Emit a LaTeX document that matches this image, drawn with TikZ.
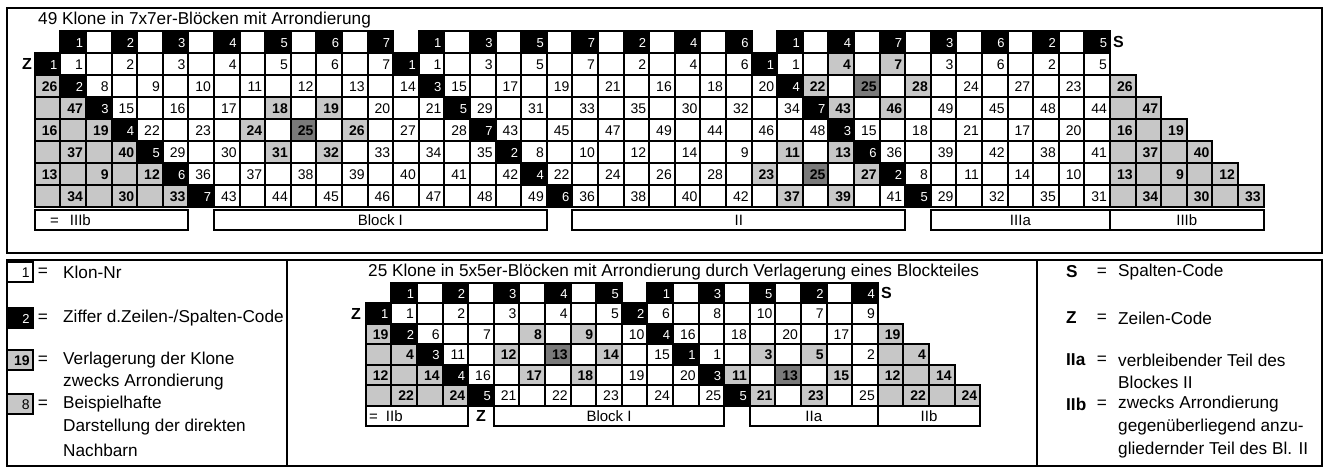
\documentclass[tikz,border=0pt]{standalone}
\usepackage{fontspec}
\setmainfont{Liberation Sans}
\newcommand{\rkNum}{\fontsize{14}{15}\selectfont}
\newcommand{\rkNumB}{\fontsize{14}{15}\selectfont\bfseries}
\newcommand{\rkCode}{\fontsize{13}{14}\selectfont}
\newcommand{\rkLg}{\fontsize{17.2}{20}\selectfont}
\newcommand{\rkLgB}{\fontsize{17.2}{20}\selectfont\bfseries}
\newcommand{\rkLab}{\fontsize{15}{16}\selectfont}
\newcommand{\rkZ}{\fontsize{16}{16}\selectfont\bfseries}
\newcommand{\rkH}{22pt}
\newcommand{\rkrow}[5]{%
  \foreach \ty/\tx [count=\i from 0] in {#5} {%
    \pgfmathsetmacro{\xc}{#4+25.6*(#3+\i)+12.8}%
    \node[cell\ty] (#1-\i) at (\xc,#2) {\tx};%
  }%
}
\tikzset{
  cellbase/.style={draw=black, line width=1.9pt, minimum width=25.6pt, minimum height=\rkH,
    inner xsep=3pt, inner ysep=0pt, text width=19.6pt, align=right, text height=10pt, text depth=0pt},
  cellN/.style={cellbase, fill=white, font=\rkNum},
  cellE/.style={cellbase, fill=white},
  cellK/.style={cellbase, fill=black, text=white, font=\rkCode},
  cellS/.style={cellbase, fill=black!22, font=\rkNumB},
  cellZ/.style={cellbase, fill=black!22},
  cellD/.style={cellbase, fill=black!52, font=\rkNumB},
  cellX/.style={inner sep=0pt, minimum size=0pt},
  lblbox/.style={draw=black, line width=1.9pt, fill=white, minimum height=20pt, inner sep=0pt, font=\rkLab},
  lgtext/.style={font=\rkLg, anchor=west, inner sep=0pt},
  lgkey/.style={font=\rkLgB, anchor=west, inner sep=0pt},
  lgeq/.style={font=\rkLg, inner sep=0pt},
  framel/.style={draw=black, line width=2pt},
}
\begin{document}
\begin{tikzpicture}[x=1pt,y=-1pt]
\useasboundingbox (0,0) rectangle (1325,469);
% frames
\draw[framel] (7,8) rectangle (1322,253);
\draw[framel] (7,260) rectangle (1322,466);
\draw[framel] (287,260) -- (287,466);
\draw[framel] (1037,260) -- (1037,466);

% ---------- top grid ----------
\node[lgtext] (ttitle) at (38,20) {49 Klone in 7x7er-Blöcken mit Arrondierung};
\rkrow{th}{42}{0}{60.4}{K/1,E/{},K/2,E/{},K/3,E/{},K/4,E/{},K/5,E/{},K/6,E/{},K/7,X/{},K/1,E/{},K/3,E/{},K/5,E/{},K/7,E/{},K/2,E/{},K/4,E/{},K/6,X/{},K/1,E/{},K/4,E/{},K/7,E/{},K/3,E/{},K/6,E/{},K/2,E/{},K/5}
\rkrow{t1}{64}{-1}{60.4}{K/1,N/1,E/{},N/2,E/{},N/3,E/{},N/4,E/{},N/5,E/{},N/6,E/{},N/7,K/1,N/1,E/{},N/3,E/{},N/5,E/{},N/7,E/{},N/2,E/{},N/4,E/{},N/6,K/1,N/1,E/{},S/4,E/{},S/7,E/{},N/3,E/{},N/6,E/{},N/2,E/{},N/5}
\rkrow{t2}{86}{-1}{60.4}{S/26,K/2,N/8,E/{},N/9,E/{},N/10,E/{},N/11,E/{},N/12,E/{},N/13,E/{},N/14,K/3,N/15,E/{},N/17,E/{},N/19,E/{},N/21,E/{},N/16,E/{},N/18,E/{},N/20,K/4,S/22,E/{},D/25,E/{},S/28,E/{},N/24,E/{},N/27,E/{},N/23,E/{},S/26}
\rkrow{t3}{108}{-1}{60.4}{Z/{},S/47,K/3,N/15,E/{},N/16,E/{},N/17,E/{},S/18,E/{},S/19,E/{},N/20,E/{},N/21,K/5,N/29,E/{},N/31,E/{},N/33,E/{},N/35,E/{},N/30,E/{},N/32,E/{},N/34,K/7,S/43,E/{},S/46,E/{},N/49,E/{},N/45,E/{},N/48,E/{},N/44,Z/{},S/47}
\rkrow{t4}{130}{-1}{60.4}{S/16,Z/{},S/19,K/4,N/22,E/{},N/23,E/{},S/24,E/{},D/25,E/{},S/26,E/{},N/27,E/{},N/28,K/7,N/43,E/{},N/45,E/{},N/47,E/{},N/49,E/{},N/44,E/{},N/46,E/{},N/48,K/3,N/15,E/{},N/18,E/{},N/21,E/{},N/17,E/{},N/20,E/{},S/16,Z/{},S/19}
\rkrow{t5}{152}{-1}{60.4}{Z/{},S/37,Z/{},S/40,K/5,N/29,E/{},N/30,E/{},S/31,E/{},S/32,E/{},N/33,E/{},N/34,E/{},N/35,K/2,N/8,E/{},N/10,E/{},N/12,E/{},N/14,E/{},N/9,E/{},S/11,E/{},S/13,K/6,N/36,E/{},N/39,E/{},N/42,E/{},N/38,E/{},N/41,Z/{},S/37,Z/{},S/40}
\rkrow{t6}{174}{-1}{60.4}{S/13,Z/{},S/9,Z/{},S/12,K/6,N/36,E/{},N/37,E/{},N/38,E/{},N/39,E/{},N/40,E/{},N/41,E/{},N/42,K/4,N/22,E/{},N/24,E/{},N/26,E/{},N/28,E/{},S/23,E/{},D/25,E/{},S/27,K/2,N/8,E/{},N/11,E/{},N/14,E/{},N/10,E/{},S/13,Z/{},S/9,Z/{},S/12}
\rkrow{t7}{196}{-1}{60.4}{Z/{},S/34,Z/{},S/30,Z/{},S/33,K/7,N/43,E/{},N/44,E/{},N/45,E/{},N/46,E/{},N/47,E/{},N/48,E/{},N/49,K/6,N/36,E/{},N/38,E/{},N/40,E/{},N/42,E/{},S/37,E/{},S/39,E/{},N/41,K/5,N/29,E/{},N/32,E/{},N/35,E/{},N/31,Z/{},S/34,Z/{},S/30,Z/{},S/33}
\node[font=\rkZ] (tz) at (27,64) {Z};
\node[font=\rkZ, anchor=west, inner sep=0pt] (ts) at (1113,42) {S};
% top label row
\node[lblbox, minimum width=153.6pt] (tl1) at (111.6,220) {};
\node[font=\rkLab, anchor=west, inner sep=0pt] (tl1t) at (50,220) {=\hspace{11pt}IIIb};
\node[lblbox, minimum width=332.8pt] (tl2) at (380.4,220) {Block I};
\node[lblbox, minimum width=332.8pt] (tl3) at (738.8,220) {II};
\node[lblbox, minimum width=179.2pt] (tl4) at (1020.4,220) {IIIa};
\node[lblbox, minimum width=153.6pt] (tl5) at (1186.8,220) {IIIb};

% ---------- bottom grid ----------
\renewcommand{\rkH}{20.5pt}
\node[lgtext] (btitle) at (368,272) {25 Klone in 5x5er-Blöcken mit Arrondierung durch Verlagerung eines Blockteiles};
\rkrow{bh}{293}{0}{391.4}{K/1,E/{},K/2,E/{},K/3,E/{},K/4,E/{},K/5,X/{},K/1,E/{},K/3,E/{},K/5,E/{},K/2,E/{},K/4}
\rkrow{b1}{313.5}{-1}{391.4}{K/1,N/1,E/{},N/2,E/{},N/3,E/{},N/4,E/{},N/5,K/2,N/6,E/{},N/8,E/{},N/10,E/{},N/7,E/{},N/9}
\rkrow{b2}{334}{-1}{391.4}{S/19,K/2,N/6,E/{},N/7,E/{},S/8,E/{},S/9,E/{},N/10,K/4,N/16,E/{},N/18,E/{},N/20,E/{},N/17,E/{},S/19}
\rkrow{b3}{354.5}{-1}{391.4}{Z/{},S/4,K/3,N/11,E/{},S/12,E/{},D/13,E/{},S/14,E/{},N/15,K/1,N/1,E/{},S/3,E/{},S/5,E/{},N/2,Z/{},S/4}
\rkrow{b4}{375}{-1}{391.4}{S/12,Z/{},S/14,K/4,N/16,E/{},S/17,E/{},S/18,E/{},N/19,E/{},N/20,K/3,S/11,E/{},D/13,E/{},S/15,E/{},S/12,Z/{},S/14}
\rkrow{b5}{395.5}{-1}{391.4}{Z/{},S/22,Z/{},S/24,K/5,N/21,E/{},N/22,E/{},N/23,E/{},N/24,E/{},N/25,K/5,S/21,E/{},S/23,E/{},N/25,Z/{},S/22,Z/{},S/24}
\node[font=\rkZ] (bz) at (356,313.5) {Z};
\node[font=\rkZ, anchor=west, inner sep=0pt] (bs) at (881,293) {S};
% bottom label row
\node[lblbox, minimum width=102.4pt] (bl1) at (417,416) {};
\node[font=\rkLab, anchor=west, inner sep=0pt] (bl1t) at (369,416) {=\hspace{8pt}IIb};
\node[font=\rkZ] (blz) at (481,416) {Z};
\node[lblbox, minimum width=230.4pt] (bl2) at (609,416) {Block I};
\node[lblbox, minimum width=128pt] (bl3) at (813.8,416) {IIa};
\node[lblbox, minimum width=102.4pt] (bl4) at (929,416) {IIb};

% ---------- left legend ----------
\node[cellN, minimum height=20pt] (lg1) at (19.8,272) {1};
\node[cellK, minimum height=20pt] (lg2) at (19.8,318) {2};
\node[cellS, minimum height=20pt] (lg3) at (19.8,360) {19};
\node[cellS, minimum height=20pt, font=\rkNum] (lg4) at (19.8,404) {8};
\node[lgeq] (lge1) at (43,272) {=};
\node[lgeq] (lge2) at (43,318) {=};
\node[lgeq] (lge3) at (43,360) {=};
\node[lgeq] (lge4) at (43,404) {=};
\node[lgtext] (lgt1) at (63,272) {Klon-Nr};
\node[lgtext] (lgt2) at (63,318) {Ziffer d.Zeilen-/Spalten-Code};
\node[lgtext] (lgt3) at (63,360) {Verlagerung der Klone};
\node[lgtext] (lgt3b) at (63,382) {zwecks Arrondierung};
\node[lgtext] (lgt4) at (63,404) {Beispielhafte};
\node[lgtext] (lgt4b) at (63,427) {Darstellung der direkten};
\node[lgtext] (lgt4c) at (63,450) {Nachbarn};

% ---------- right legend ----------
\node[lgkey] (rk1) at (1066,272) {S};
\node[lgkey] (rk2) at (1066,318) {Z};
\node[lgkey] (rk3) at (1066,360) {IIa};
\node[lgkey] (rk4) at (1066,404) {IIb};
\node[lgeq] (re1) at (1102,272) {=};
\node[lgeq] (re2) at (1102,318) {=};
\node[lgeq] (re3) at (1102,360) {=};
\node[lgeq] (re4) at (1102,404) {=};
\node[lgtext] (rt1) at (1118,272) {Spalten-Code};
\node[lgtext] (rt2) at (1118,318) {Zeilen-Code};
\node[lgtext] (rt3) at (1118,360) {verbleibender Teil des};
\node[lgtext] (rt3b) at (1118,382) {Blockes II};
\node[lgtext] (rt4) at (1118,404) {zwecks Arrondierung};
\node[lgtext] (rt4b) at (1118,427) {gegenüberliegend anzu-};
\node[lgtext] (rt4c) at (1118,450) {gliedernder Teil des Bl. II};
\end{tikzpicture}
\end{document}
